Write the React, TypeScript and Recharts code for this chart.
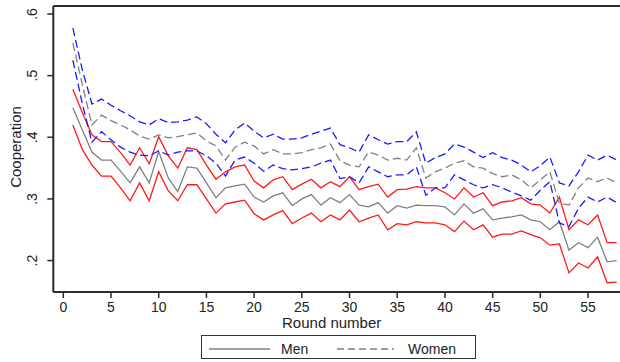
import React from 'react';
import { LineChart, Line, XAxis, YAxis } from 'recharts';

const rounds = [
  1, 2, 3, 4, 5, 6, 7, 8, 9, 10, 11, 12, 13, 14, 15, 16, 17, 18, 19, 20,
  21, 22, 23, 24, 25, 26, 27, 28, 29, 30, 31, 32, 33, 34, 35, 36, 37, 38, 39, 40,
  41, 42, 43, 44, 45, 46, 47, 48, 49, 50, 51, 52, 53, 54, 55, 56, 57, 58,
];

const menMean = [
  0.448, 0.412, 0.376, 0.363, 0.363, 0.345, 0.326, 0.352, 0.326, 0.377,
  0.334, 0.312, 0.352, 0.350, 0.326, 0.302, 0.318, 0.321, 0.324, 0.303,
  0.295, 0.305, 0.310, 0.289, 0.300, 0.307, 0.290, 0.302, 0.294, 0.307,
  0.290, 0.287, 0.294, 0.277, 0.289, 0.285, 0.290, 0.289, 0.289, 0.287,
  0.274, 0.292, 0.277, 0.284, 0.266, 0.269, 0.271, 0.274, 0.266, 0.263,
  0.250, 0.263, 0.217, 0.229, 0.221, 0.238, 0.198, 0.200,
];

const menUpper = [
  0.478, 0.440, 0.404, 0.393, 0.393, 0.375, 0.355, 0.383, 0.357, 0.401,
  0.370, 0.350, 0.383, 0.380, 0.355, 0.332, 0.344, 0.352, 0.355, 0.329,
  0.318, 0.331, 0.336, 0.315, 0.324, 0.332, 0.318, 0.328, 0.320, 0.336,
  0.315, 0.320, 0.324, 0.303, 0.315, 0.316, 0.320, 0.318, 0.318, 0.310,
  0.300, 0.318, 0.303, 0.310, 0.289, 0.295, 0.297, 0.302, 0.292, 0.290,
  0.277, 0.303, 0.250, 0.266, 0.258, 0.274, 0.229, 0.229,
];

const menLower = [
  0.420, 0.380, 0.355, 0.337, 0.337, 0.318, 0.297, 0.326, 0.297, 0.344,
  0.313, 0.297, 0.323, 0.323, 0.300, 0.277, 0.292, 0.295, 0.298, 0.276,
  0.266, 0.274, 0.281, 0.260, 0.269, 0.277, 0.263, 0.274, 0.266, 0.282,
  0.263, 0.269, 0.274, 0.250, 0.260, 0.258, 0.263, 0.261, 0.261, 0.258,
  0.247, 0.264, 0.250, 0.258, 0.238, 0.243, 0.243, 0.248, 0.242, 0.237,
  0.225, 0.227, 0.180, 0.196, 0.188, 0.206, 0.164, 0.165,
];

const womenMean = [
  0.553, 0.485, 0.420, 0.436, 0.427, 0.420, 0.412, 0.402, 0.397, 0.404,
  0.399, 0.401, 0.404, 0.407, 0.394, 0.386, 0.363, 0.384, 0.392, 0.386,
  0.373, 0.380, 0.373, 0.373, 0.375, 0.380, 0.383, 0.389, 0.362, 0.355,
  0.352, 0.376, 0.371, 0.363, 0.366, 0.363, 0.383, 0.334, 0.344, 0.350,
  0.358, 0.362, 0.352, 0.350, 0.341, 0.336, 0.339, 0.331, 0.318, 0.331,
  0.344, 0.293, 0.290, 0.318, 0.334, 0.328, 0.334, 0.326,
];

const womenUpper = [
  0.577, 0.509, 0.454, 0.462, 0.452, 0.443, 0.435, 0.425, 0.420, 0.430,
  0.424, 0.425, 0.428, 0.433, 0.422, 0.405, 0.391, 0.412, 0.423, 0.410,
  0.399, 0.405, 0.397, 0.397, 0.399, 0.405, 0.410, 0.415, 0.388, 0.383,
  0.376, 0.404, 0.396, 0.389, 0.393, 0.393, 0.409, 0.358, 0.367, 0.373,
  0.389, 0.384, 0.376, 0.367, 0.375, 0.367, 0.363, 0.355, 0.344, 0.354,
  0.368, 0.326, 0.321, 0.344, 0.371, 0.363, 0.371, 0.363,
];

const womenLower = [
  0.525, 0.454, 0.392, 0.409, 0.396, 0.384, 0.376, 0.371, 0.370, 0.378,
  0.371, 0.376, 0.378, 0.378, 0.370, 0.358, 0.337, 0.363, 0.368, 0.358,
  0.345, 0.355, 0.349, 0.347, 0.349, 0.352, 0.358, 0.363, 0.333, 0.336,
  0.326, 0.352, 0.344, 0.336, 0.339, 0.339, 0.352, 0.306, 0.318, 0.318,
  0.339, 0.331, 0.323, 0.318, 0.323, 0.318, 0.311, 0.305, 0.298, 0.314,
  0.328, 0.261, 0.255, 0.285, 0.303, 0.295, 0.303, 0.294,
];

const xTicks = [0, 5, 10, 15, 20, 25, 30, 35, 40, 45, 50, 55];
const yTicks = [0.2, 0.3, 0.4, 0.5, 0.6];

const data = rounds.map((r, i) => ({
  round: r,
  menMean: menMean[i],
  menUpper: menUpper[i],
  menLower: menLower[i],
  womenMean: womenMean[i],
  womenUpper: womenUpper[i],
  womenLower: womenLower[i],
}));

const FONT = 'Arial, "Liberation Sans", Helvetica, sans-serif';
const AXIS = '#2b2b2b';
const RED = '#ff1a1a';
const BLUE = '#1a1aff';
const GRAY = '#808080';
const DASH = '8 4';

const XTick = (props: any) => {
  const { x, y, payload } = props;
  return (
    <text x={x} y={y + 12} textAnchor="middle" fontSize={14} fontFamily={FONT} fill="#222">
      {payload.value}
    </text>
  );
};

const YTick = (props: any) => {
  const { x, y, payload } = props;
  const label = Number(payload.value).toFixed(1).replace(/^0/, '');
  const bx = x - 8;
  return (
    <text
      x={bx}
      y={y}
      textAnchor="middle"
      fontSize={14}
      fontFamily={FONT}
      fill="#222"
      transform={`rotate(-90, ${bx}, ${y})`}
    >
      {label}
    </text>
  );
};

const XTitle = (props: any) => {
  const { x, y, width } = props.viewBox;
  return (
    <text x={x + width / 2 - 5} y={y + 36} textAnchor="middle" fontSize={15} fontFamily={FONT} fill="#222">
      Round number
    </text>
  );
};

const YTitle = (props: any) => {
  const { y, height } = props.viewBox;
  const cx = 21;
  const cy = y + height / 2 - 2;
  return (
    <text
      x={cx}
      y={cy}
      textAnchor="middle"
      fontSize={15}
      fontFamily={FONT}
      fill="#222"
      transform={`rotate(-90, ${cx}, ${cy})`}
    >
      Cooperation
    </text>
  );
};

export default function App() {
  return (
    <div style={{ position: 'absolute', left: 0, top: 0, width: 620, height: 362, background: '#fff' }}>
      <LineChart
        width={620}
        height={362}
        data={data}
        margin={{ top: 5, right: 0, bottom: 40, left: 0 }}
      >
        <XAxis
          xAxisId="b"
          dataKey="round"
          type="number"
          domain={[-1.05, 58.35]}
          ticks={xTicks}
          allowDataOverflow
          height={30}
          tickSize={6}
          tickMargin={2}
          axisLine={{ stroke: AXIS, strokeWidth: 2 }}
          tickLine={{ stroke: AXIS, strokeWidth: 1.5 }}
          tick={<XTick />}
          interval={0}
          label={<XTitle />}
        />
        <XAxis
          xAxisId="t"
          orientation="top"
          type="number"
          domain={[-1.05, 58.35]}
          allowDataOverflow
          height={1}
          tick={false}
          tickLine={false}
          axisLine={{ stroke: AXIS, strokeWidth: 2 }}
        />
        <YAxis
          type="number"
          domain={[0.149, 0.613]}
          ticks={yTicks}
          allowDataOverflow
          width={53.3}
          tickSize={6}
          tickMargin={2}
          axisLine={{ stroke: AXIS, strokeWidth: 2 }}
          tickLine={{ stroke: AXIS, strokeWidth: 1.5 }}
          tick={<YTick />}
          interval={0}
          label={<YTitle />}
        />
        <Line xAxisId="b" type="linear" dataKey="menUpper" stroke={RED} strokeWidth={1.3} dot={false} isAnimationActive={false} />
        <Line xAxisId="b" type="linear" dataKey="menLower" stroke={RED} strokeWidth={1.3} dot={false} isAnimationActive={false} />
        <Line xAxisId="b" type="linear" dataKey="menMean" stroke={GRAY} strokeWidth={1.3} dot={false} isAnimationActive={false} />
        <Line xAxisId="b" type="linear" dataKey="womenUpper" stroke={BLUE} strokeWidth={1.3} strokeDasharray={DASH} dot={false} isAnimationActive={false} />
        <Line xAxisId="b" type="linear" dataKey="womenLower" stroke={BLUE} strokeWidth={1.3} strokeDasharray={DASH} dot={false} isAnimationActive={false} />
        <Line xAxisId="b" type="linear" dataKey="womenMean" stroke={GRAY} strokeWidth={1.3} strokeDasharray={DASH} dot={false} isAnimationActive={false} />
      </LineChart>
      <div
        style={{
          position: 'absolute',
          left: 201,
          top: 335,
          width: 273,
          height: 22,
          border: '1.5px solid #333',
          fontFamily: FONT,
          fontSize: 14,
          color: '#222',
        }}
      >
        <svg width={273} height={22} style={{ position: 'absolute', left: 0, top: 0 }}>
          <line x1={7} x2={68} y1={13} y2={13} stroke={GRAY} strokeWidth={1.3} />
          <text x={79} y={18} fontSize={14} fontFamily={FONT} fill="#222">Men</text>
          <line x1={135} x2={192} y1={13} y2={13} stroke={GRAY} strokeWidth={1.3} strokeDasharray="7 4" />
          <text x={206} y={18} fontSize={14} fontFamily={FONT} fill="#222">Women</text>
        </svg>
      </div>
    </div>
  );
}
